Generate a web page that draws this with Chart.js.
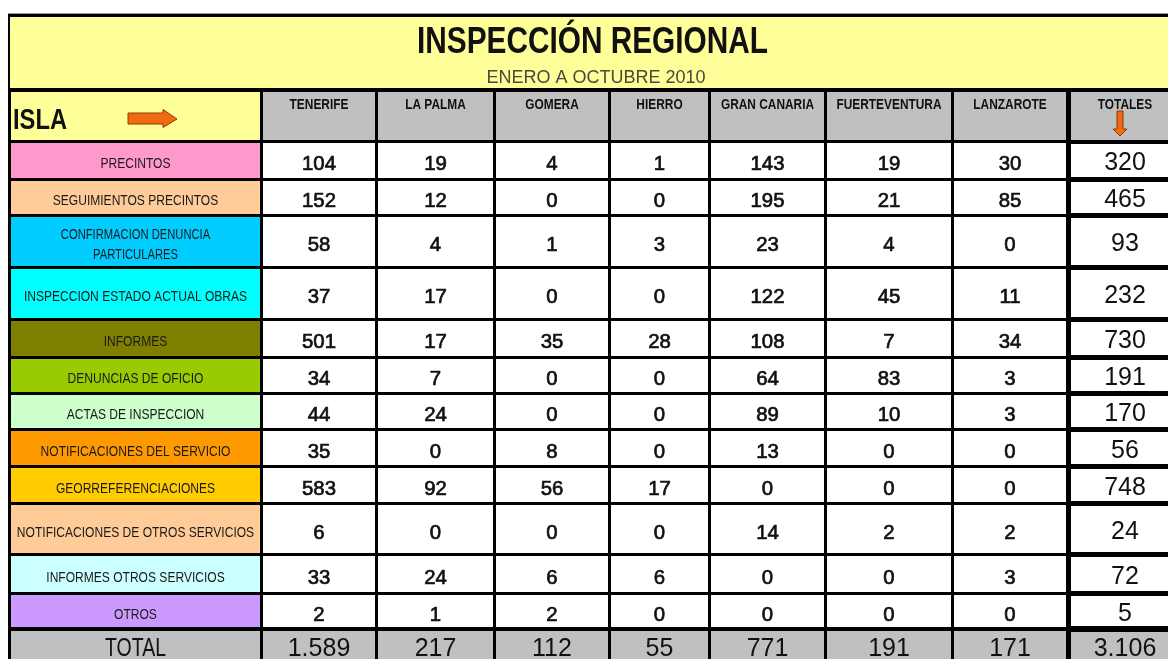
<!DOCTYPE html>
<html>
<head>
<meta charset="utf-8">
<script src="https://cdn.jsdelivr.net/npm/chart.js@4.4.1/dist/chart.umd.min.js"></script>
<style>
html,body{margin:0;padding:0;background:#fff;}
canvas{display:block;}
</style>
</head>
<body>
<canvas id="c" width="1168" height="659"></canvas>
<script>
// ---------- DATA ----------
const title = 'INSPECCIÓN REGIONAL';
const subtitle = 'ENERO A OCTUBRE 2010';
const rowHeader = 'ISLA';
const islands = ['TENERIFE','LA PALMA','GOMERA','HIERRO','GRAN CANARIA','FUERTEVENTURA','LANZAROTE'];
const totalsHeader = 'TOTALES';
const totalLabel = 'TOTAL';
const categories = [
  'PRECINTOS',
  'SEGUIMIENTOS PRECINTOS',
  'CONFIRMACION DENUNCIA PARTICULARES',
  'INSPECCION ESTADO ACTUAL OBRAS',
  'INFORMES',
  'DENUNCIAS DE OFICIO',
  'ACTAS DE INSPECCION',
  'NOTIFICACIONES DEL SERVICIO',
  'GEORREFERENCIACIONES',
  'NOTIFICACIONES DE OTROS SERVICIOS',
  'INFORMES OTROS SERVICIOS',
  'OTROS'
];
const tenerife      = [104,152,58,37,501,34,44,35,583,6,33,2];
const laPalma       = [19,12,4,17,17,7,24,0,92,0,24,1];
const gomera        = [4,0,1,0,35,0,0,8,56,0,6,2];
const hierro        = [1,0,3,0,28,0,0,0,17,0,6,0];
const granCanaria   = [143,195,23,122,108,64,89,13,0,14,0,0];
const fuerteventura = [19,21,4,45,7,83,10,0,0,2,0,0];
const lanzarote     = [30,85,0,11,34,3,3,0,0,2,3,0];
const rowTotals     = [320,465,93,232,730,191,170,56,748,24,72,5];
const columnTotals  = [1589,217,112,55,771,191,171];
const grandTotal    = 3106;

const series = [tenerife,laPalma,gomera,hierro,granCanaria,fuerteventura,lanzarote];

// ---------- LAYOUT / STYLE ----------
const labelColors = ['#FF99CC','#FFCC99','#00CCFF','#00FFFF','#808000','#99CC00','#CCFFCC','#FF9900','#FFCC00','#FFCC99','#CCFFFF','#CC99FF'];
const colEdges = [[11,260],[263,375],[378,493],[496,608],[611,708],[711,824],[827,951],[954,1066],[1071,1185]];
const rowEdges = [[143,178],[181,214],[217,266],[269,318],[321,356],[359,392],[395,428],[431,465],[468,502],[505,553],[556,592],[595,627]];
const titleRow = [17,88];
const headerRow = [92,140];
const totalRowEdges = [631,690];
const FONT = '"Liberation Sans", Arial, sans-serif';

function fmt(n){ return n.toString().replace(/\B(?=(\d{3})+(?!\d))/g,'.'); }

const tablePlugin = {
  id:'tablePlugin',
  afterDraw(chart){
    const ctx = chart.ctx;
    const sx = chart.scales.x, sy = chart.scales.y;
    const X = v => sx.getPixelForValue(v);
    const Y = v => sy.getPixelForValue(v);
    const rect = (x0,y0,x1,y1,color) => {
      ctx.fillStyle = color;
      const a = X(x0), b = Y(y0);
      ctx.fillRect(a, b, X(x1)-a, Y(y1)-b);
    };
    const text = (t, cx, base, font, scale, color, strokeW) => {
      ctx.save();
      ctx.font = font;
      ctx.fillStyle = color || '#111';
      ctx.textAlign = 'center';
      ctx.textBaseline = 'alphabetic';
      ctx.translate(X(cx), Y(base));
      ctx.scale(scale,1);
      ctx.fillText(t,0,0);
      if(strokeW){ ctx.lineWidth = strokeW; ctx.strokeStyle = color || '#111'; ctx.strokeText(t,0,0); }
      ctx.restore();
    };
    const fitScale = (t, font, target) => {
      ctx.save(); ctx.font = font;
      const w = ctx.measureText(t).width; ctx.restore();
      return target / w;
    };

    // frame
    rect(8,13,1168,14,'#9a9a9a');
    rect(8,14,1168,659,'#000');

    // title
    rect(10,titleRow[0],1168,titleRow[1],'#FFFF99');
    const tf = 'bold 37px ' + FONT;
    text(title, 592.5, 53, tf, fitScale(title, tf, 351));
    text(subtitle, 596, 83, '18px ' + FONT, 1, '#4a4a3a');

    // header row
    rect(colEdges[0][0], headerRow[0], colEdges[0][1], headerRow[1], '#FFFF99');
    const hf = 'bold 30px ' + FONT;
    ctx.save(); ctx.font = hf; ctx.fillStyle='#111'; ctx.textAlign='left';
    const sI = fitScale(rowHeader, hf, 54);
    ctx.translate(X(13), Y(129)); ctx.scale(sI,1); ctx.fillText(rowHeader,0,0); ctx.restore();
    // orange arrow right
    ctx.save();
    ctx.beginPath();
    ctx.moveTo(X(128),Y(113)); ctx.lineTo(X(163),Y(113)); ctx.lineTo(X(163),Y(109.5));
    ctx.lineTo(X(177),Y(119)); ctx.lineTo(X(163),Y(127.5)); ctx.lineTo(X(163),Y(124));
    ctx.lineTo(X(128),Y(124)); ctx.closePath();
    ctx.fillStyle='#F26A10'; ctx.fill(); ctx.lineWidth=1; ctx.strokeStyle='#8a3c08'; ctx.stroke();
    ctx.restore();

    const headF = 'bold 14px ' + FONT;
    for(let i=0;i<=islands.length;i++){
      const c = colEdges[i+1];
      rect(c[0], headerRow[0], c[1], headerRow[1], '#C0C0C0');
      const name = i<islands.length ? islands[i] : totalsHeader;
      const cx = i<islands.length ? (c[0]+c[1])/2 : 1125;
      text(name, cx, 109, headF, 0.85);
    }
    // down arrow in totals header
    ctx.save();
    ctx.beginPath();
    ctx.moveTo(X(1117),Y(111)); ctx.lineTo(X(1123),Y(111)); ctx.lineTo(X(1123),Y(129));
    ctx.lineTo(X(1127),Y(129)); ctx.lineTo(X(1120),Y(136)); ctx.lineTo(X(1113),Y(129));
    ctx.lineTo(X(1117),Y(129)); ctx.closePath();
    ctx.fillStyle='#F26A10'; ctx.fill(); ctx.lineWidth=1; ctx.strokeStyle='#8a3c08'; ctx.stroke();
    ctx.restore();

    // data rows
    const labF = '14px ' + FONT;
    const numF = '21px ' + FONT;
    const totF = '25px ' + FONT;
    categories.forEach((cat, r) => {
      const [y0,y1] = rowEdges[r];
      const cy = (y0+y1)/2;
      const lc = colEdges[0];
      rect(lc[0], y0, lc[1], y1, labelColors[r]);
      ctx.save(); ctx.font = labF;
      const nat = ctx.measureText(cat).width; ctx.restore();
      const baseScale = 0.86;
      if(nat*baseScale > 245){
        const words = cat.split(' ');
        const l1 = words.slice(0,2).join(' ');
        const l2 = words.slice(2).join(' ');
        text(l1, (lc[0]+lc[1])/2, cy-2.5, labF, baseScale*0.93, '#1a1a1a');
        text(l2, (lc[0]+lc[1])/2, cy+17.5, labF, baseScale*0.93, '#1a1a1a');
      } else {
        const s = Math.min(baseScale, 241/nat);
        text(cat, (lc[0]+lc[1])/2, cy+7.5, labF, s, '#1a1a1a');
      }
      series.forEach((arr, i) => {
        const c = colEdges[i+1];
        rect(c[0], y0, c[1], y1, '#FFFFFF');
        text(fmt(arr[r]), (c[0]+c[1])/2, cy+9.5, numF, 0.97, '#111', 0.7);
      });
      const tc = colEdges[8];
      rect(tc[0], y0+1, tc[1], y1-1, '#FFFFFF');
      text(fmt(rowTotals[r]), 1125, cy+9.5, totF, 1);
    });

    // total row
    const [t0,t1] = totalRowEdges;
    rect(colEdges[0][0], t0, colEdges[0][1], t1, '#C0C0C0');
    text(totalLabel, (colEdges[0][0]+colEdges[0][1])/2, 656, totF, 0.78);
    columnTotals.forEach((v,i) => {
      const c = colEdges[i+1];
      rect(c[0], t0, c[1], t1, '#C0C0C0');
      text(fmt(v), (c[0]+c[1])/2, 656, totF, 1);
    });
    const tc = colEdges[8];
    rect(tc[0], t0+1, tc[1], t1, '#C0C0C0');
    text(fmt(grandTotal), 1125, 656, totF, 1);
  }
};

new Chart(document.getElementById('c'), {
  type: 'scatter',
  data: { datasets: [] },
  options: {
    responsive: false,
    animation: false,
    events: [],
    layout: { padding: 0 },
    plugins: { legend: { display: false }, tooltip: { enabled: false }, title: { display: false } },
    scales: {
      x: { type: 'linear', min: 0, max: 1168, display: false },
      y: { type: 'linear', min: 0, max: 659, reverse: true, display: false }
    }
  },
  plugins: [tablePlugin]
});
</script>
</body>
</html>
